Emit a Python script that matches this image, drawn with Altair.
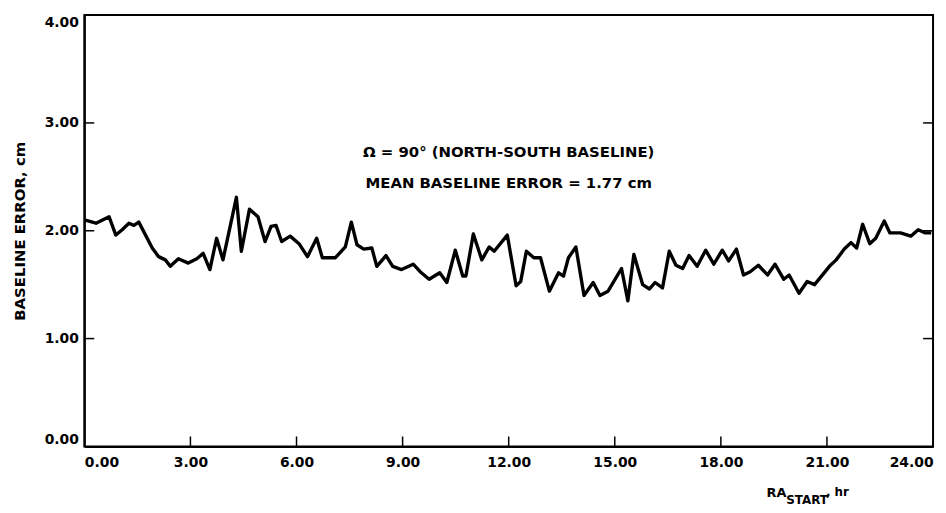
import altair as alt
import pandas as pd

hours = [0.00, 0.33, 0.70, 0.89, 1.07, 1.26, 1.40, 1.54, 1.92, 2.10, 2.29, 2.43, 2.66, 2.94,
         3.18, 3.36, 3.55, 3.74, 3.92, 4.30, 4.44, 4.67, 4.91, 5.11, 5.28, 5.42, 5.58, 5.82,
         6.07, 6.31, 6.57, 6.73, 7.10, 7.38, 7.55, 7.71, 7.90, 8.13, 8.27, 8.53, 8.72, 8.97,
         9.30, 9.53, 9.75, 10.05, 10.25, 10.49, 10.70, 10.79, 11.00, 11.24, 11.45, 11.59,
         11.96, 12.21, 12.34, 12.50, 12.71, 12.90, 13.15, 13.41, 13.55, 13.69, 13.90, 14.13,
         14.39, 14.58, 14.81, 15.19, 15.37, 15.54, 15.79, 15.98, 16.14, 16.35, 16.54, 16.73,
         16.92, 17.10, 17.33, 17.57, 17.80, 18.04, 18.22, 18.44, 18.64, 18.83, 19.06, 19.32,
         19.53, 19.78, 19.93, 20.21, 20.44, 20.65, 21.07, 21.26, 21.49, 21.68, 21.84, 22.01,
         22.21, 22.38, 22.62, 22.78, 23.08, 23.37, 23.58, 23.78, 23.95]
errors = [2.10, 2.07, 2.13, 1.96, 2.01, 2.07, 2.05, 2.08, 1.84, 1.76, 1.73, 1.67, 1.74, 1.70,
          1.74, 1.79, 1.64, 1.93, 1.73, 2.31, 1.81, 2.20, 2.13, 1.90, 2.04, 2.05, 1.90, 1.95,
          1.88, 1.76, 1.93, 1.75, 1.75, 1.85, 2.08, 1.87, 1.83, 1.84, 1.67, 1.77, 1.67, 1.64,
          1.69, 1.61, 1.55, 1.61, 1.52, 1.82, 1.58, 1.58, 1.97, 1.73, 1.85, 1.81,
          1.96, 1.49, 1.53, 1.81, 1.75, 1.75, 1.44, 1.61, 1.58, 1.75, 1.85, 1.40,
          1.52, 1.40, 1.44, 1.65, 1.35, 1.78, 1.50, 1.46, 1.52, 1.47, 1.81, 1.68,
          1.65, 1.77, 1.67, 1.82, 1.69, 1.82, 1.72, 1.83, 1.59, 1.62, 1.68, 1.59,
          1.69, 1.55, 1.59, 1.42, 1.53, 1.50, 1.67, 1.73, 1.83, 1.89, 1.84, 2.06,
          1.88, 1.93, 2.09, 1.98, 1.98, 1.95, 2.01, 1.98, 1.98]

x_ticks = [0, 3, 6, 9, 12, 15, 18, 21, 24]
y_ticks = [0, 1, 2, 3, 4]
x_inner_ticks = [3, 6, 9, 12, 15, 18, 21]
y_inner_ticks = [1, 2, 3]

notes = ["\u03a9 = 90\u00b0 (NORTH-SOUTH BASELINE)", "MEAN BASELINE ERROR = 1.77 cm"]
note_x = [12.0, 12.0]
note_y = [2.73, 2.44]

FONT = "DejaVu Sans"
W, H = 856, 435

df = pd.DataFrame({"hr": hours, "err": errors})
xs = alt.Scale(domain=[0, 24], nice=False, zero=False)
ys = alt.Scale(domain=[0, 4], nice=False, zero=False)

line = alt.Chart(df).mark_line(color="black", strokeWidth=3.4, strokeJoin="round").encode(
    x=alt.X("hr:Q", scale=xs, title=None,
            axis=alt.Axis(values=x_ticks, format=".2f", ticks=False, grid=False,
                          labelFlush=True, labelPadding=9, domainColor="black",
                          domainWidth=2, labelFontSize=14, labelFontWeight="bold",
                          labelColor="black", labelFont=FONT)),
    y=alt.Y("err:Q", scale=ys, title="BASELINE ERROR, cm",
            axis=alt.Axis(values=y_ticks, format=".2f", ticks=False, grid=False,
                          labelFlush=True, labelPadding=6, domainColor="black",
                          domainWidth=2, labelFontSize=14, labelFontWeight="bold",
                          labelColor="black", labelFont=FONT, titleFont=FONT,
                          titleFontSize=15, titleFontWeight="bold", titleColor="black",
                          titlePadding=17)),
)

yt = pd.DataFrame({"v": y_inner_ticks})
ytick_left = alt.Chart(yt).mark_rule(color="black", strokeWidth=1.5).encode(
    y=alt.Y("v:Q", scale=ys), x=alt.value(0), x2=alt.value(10))
ytick_right = alt.Chart(yt).mark_rule(color="black", strokeWidth=1.5).encode(
    y=alt.Y("v:Q", scale=ys), x=alt.value(W - 10), x2=alt.value(W))
xt = pd.DataFrame({"v": x_inner_ticks})
xtick = alt.Chart(xt).mark_rule(color="black", strokeWidth=1.5).encode(
    x=alt.X("v:Q", scale=xs), y=alt.value(H), y2=alt.value(H - 10))

nd = pd.DataFrame({"t": notes, "x": note_x, "y": note_y})
note = alt.Chart(nd).mark_text(font=FONT, fontSize=15, fontWeight="bold", color="black",
                               align="center", baseline="middle").encode(
    x=alt.X("x:Q", scale=xs), y=alt.Y("y:Q", scale=ys), text="t:N")

title_parts = ["RA", "START", ", hr"]
tp = pd.DataFrame({"t": title_parts})
xt_ra = alt.Chart(tp.iloc[[0]]).mark_text(font=FONT, fontSize=13, fontWeight="bold",
                                          color="black", align="left", baseline="alphabetic").encode(
    x=alt.value(688), y=alt.value(H + 51), text="t:N")
xt_start = alt.Chart(tp.iloc[[1]]).mark_text(font=FONT, fontSize=12, fontWeight="bold",
                                             color="black", align="left", baseline="alphabetic").encode(
    x=alt.value(708), y=alt.value(H + 58), text="t:N")
xt_hr = alt.Chart(tp.iloc[[2]]).mark_text(font=FONT, fontSize=12, fontWeight="bold",
                                          color="black", align="left", baseline="alphabetic").encode(
    x=alt.value(748), y=alt.value(H + 50), text="t:N")

chart = alt.layer(line, ytick_left, ytick_right, xtick, note, xt_ra, xt_start, xt_hr).properties(
    width=W, height=H,
    autosize=alt.AutoSizeParams(type="none"),
    padding={"left": 77, "top": 5, "right": 5, "bottom": 65},
    background="white",
).configure_view(stroke="black", strokeWidth=2)

chart.save("out.html", embed_options={"renderer": "svg", "actions": False})
